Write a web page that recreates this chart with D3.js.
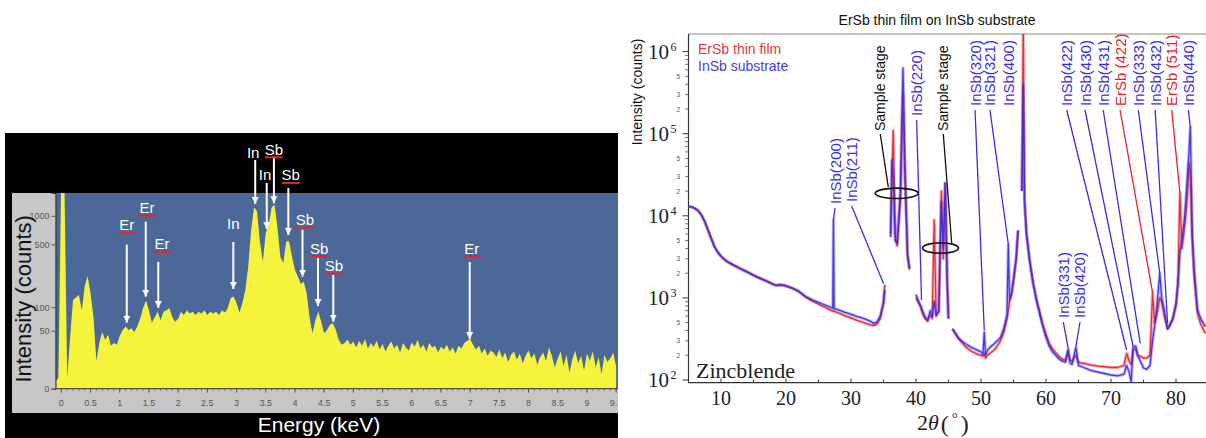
<!DOCTYPE html>
<html>
<head>
<meta charset="utf-8">
<script src="https://cdn.jsdelivr.net/npm/d3@7"></script>
<style>
  html, body { margin: 0; padding: 0; background: #fff; }
  svg { display: block; }
</style>
</head>
<body>
<div class="chart"></div>
<script>
// ---- EDS spectrum (left) ----
var edsEnergy = [
    -0.1, -0.05, 0, 0.05, 0.1, 0.15, 0.2, 0.25, 0.3, 0.35, 0.4, 0.45, 0.5, 0.55, 0.6, 0.65, 0.7, 0.75, 0.8, 0.85,
    0.9, 0.95, 1, 1.05, 1.1, 1.15, 1.2, 1.25, 1.3, 1.35, 1.4, 1.45, 1.5, 1.55, 1.6, 1.65, 1.7, 1.75, 1.8, 1.85,
    1.9, 1.95, 2, 2.05, 2.1, 2.15, 2.2, 2.25, 2.3, 2.35, 2.4, 2.45, 2.5, 2.55, 2.6, 2.65, 2.7, 2.75, 2.8, 2.85,
    2.9, 2.95, 3, 3.05, 3.1, 3.15, 3.2, 3.25, 3.3, 3.35, 3.4, 3.45, 3.5, 3.55, 3.6, 3.65, 3.7, 3.75, 3.8, 3.85,
    3.9, 3.95, 4, 4.05, 4.1, 4.15, 4.2, 4.25, 4.3, 4.35, 4.4, 4.45, 4.5, 4.55, 4.6, 4.65, 4.7, 4.75, 4.8, 4.85,
    4.9, 4.95, 5, 5.05, 5.1, 5.15, 5.2, 5.25, 5.3, 5.35, 5.4, 5.45, 5.5, 5.55, 5.6, 5.65, 5.7, 5.75, 5.8, 5.85,
    5.9, 5.95, 6, 6.05, 6.1, 6.15, 6.2, 6.25, 6.3, 6.35, 6.4, 6.45, 6.5, 6.55, 6.6, 6.65, 6.7, 6.75, 6.8, 6.85,
    6.9, 6.95, 7, 7.05, 7.1, 7.15, 7.2, 7.25, 7.3, 7.35, 7.4, 7.45, 7.5, 7.55, 7.6, 7.65, 7.7, 7.75, 7.8, 7.85,
    7.9, 7.95, 8, 8.05, 8.1, 8.15, 8.2, 8.25, 8.3, 8.35, 8.4, 8.45, 8.5, 8.55, 8.6, 8.65, 8.7, 8.75, 8.8, 8.85,
    8.9, 8.95, 9, 9.05, 9.1, 9.15, 9.2, 9.25, 9.3, 9.35, 9.4, 9.45, 9.5
];
var edsCounts = [
    3, 5, 3000, 3000, 5, 40, 122, 130, 140, 92, 175, 226, 147, 75, 16, 33, 48, 37, 44, 30,
    33, 31, 42, 51, 57, 51, 54, 48, 57, 72, 98, 120, 92, 64, 75, 88, 69, 88, 92, 98,
    75, 66, 72, 88, 80, 92, 84, 88, 80, 88, 84, 92, 80, 88, 84, 88, 80, 92, 86, 98,
    128, 134, 112, 86, 112, 159, 288, 711, 1220, 1120, 540, 325, 660, 800, 1220, 1300, 770, 370, 315, 535,
    540, 370, 265, 225, 185, 197, 147, 75, 46, 69, 88, 66, 46, 51, 60, 63, 51, 37, 31, 33,
    37, 31, 35, 28, 36, 30, 38, 27, 33, 29, 36, 26, 32, 24, 30, 35, 27, 31, 23, 33,
    28, 25, 34, 29, 37, 27, 31, 24, 33, 28, 30, 23, 29, 26, 31, 24, 28, 22, 30, 27,
    33, 36, 38, 31, 26, 30, 22, 27, 20, 25, 23, 19, 26, 18, 23, 15, 21, 24, 17, 22,
    14, 20, 25, 18, 22, 13, 19, 23, 16, 28, 20, 11, 18, 24, 12, 21, 8, 17, 25, 14,
    20, 9, 22, 16, 24, 11, 19, 7, 21, 15, 18, 23, 12
];
var edsTicksY = [0, 50, 100, 500, 1000];
var edsTicksX = [0, 0.5, 1, 1.5, 2, 2.5, 3, 3.5, 4, 4.5, 5, 5.5, 6, 6.5, 7, 7.5, 8, 8.5, 9, 9.5];

// element lines: energy of arrow, counts at arrow tip
var edsLineLabels = ['Er', 'Er', 'Er', 'In', 'In', 'Sb', 'In', 'Sb', 'Sb', 'Sb', 'Sb', 'Er'];
var edsLineEnergy = [1.12, 1.445, 1.66, 2.945, 3.32, 3.64, 3.517, 3.887, 4.13, 4.395, 4.657, 6.993];
var edsLineTip = [64, 133, 98, 163, 1328, 1350, 728, 629, 224, 103, 66, 38];

// ---- XRD (right) ----
var xrdTheta = [
    5, 5.5, 6, 6.5, 7, 7.5, 8, 8.5, 9, 9.5, 10, 10.5, 11, 11.5, 12, 13, 14, 15, 16, 17,
    18, 18.5, 19, 19.5, 20, 21, 22, 23, 24, 25, 26, 27, 27.2, 27.3, 27.4, 28, 29, 30, 31, 32,
    33, 33.5, 34, 34.5, 35, 35.2, 35.6,
    36.1, 36.3, 36.5, 36.8, 37.1, 37.6, 38, 38.3, 38.7, 39, 39.5,
    40, 40.3, 40.7, 41, 41.4, 41.8, 42.2, 42.5, 42.8, 43.1, 43.5, 43.9, 44.2, 44.5, 44.8, 45, 45.3,
    45.6, 46, 46.5, 47, 47.5, 48, 48.5, 49, 49.5, 50, 50.3, 50.5, 50.7, 51, 51.5, 52, 52.5, 53, 53.5, 54,
    54.2, 54.4, 54.7, 55, 55.4, 55.7, 56,
    56.3, 56.5, 56.7, 57, 57.5, 58, 58.5, 59, 59.5, 60, 60.5, 61, 61.5, 62, 62.5, 63, 63.4, 63.7, 64, 64.6,
    65, 65.5, 66, 67, 68, 69, 70, 71, 72, 72.4, 72.8, 73.1, 73.4, 73.8, 74.1, 74.5, 75, 75.5, 76, 76.4,
    76.7, 77, 77.5, 77.8, 78.2, 78.7, 79, 79.5, 80, 80.3, 80.6, 80.9, 81.3, 81.7, 82, 82.2, 82.5, 82.8, 83.3, 83.8,
    84.3, 84.5
];
var xrdFilm = [
    13000, 12800, 12300, 11500, 10200, 8500, 6700, 5300, 4200, 3600, 3230, 2950, 2760, 2620, 2510, 2280, 2100, 1900, 1750, 1610,
    1480, 1420, 1440, 1430, 1400, 1310, 1190, 1030, 920, 840, 770, 700, 690, 700, 685, 660, 610, 570, 530, 500,
    470, 460, 480, 560, 900, 1450, null,
    6000, 30000, 110000, 6000, 4300, 15000, 310000, 30000, 3200, 2200, null,
    1000, 900, 780, 650, 560, 520, 620, 560, 8900, 600, 700, 20000, 3000, 25000, 1500, 560, null,
    420, 370, 320, 290, 260, 240, 225, 215, 205, 200, 195, 210, 185, 200, 215, 230, 260, 300, 380, 560,
    700, 900, 1100, 1600, 2800, 6500, null,
    20000, 2000000, 15000, 6000, 2800, 1600, 1000, 700, 480, 360, 280, 240, 215, 195, 180, 175, 220, 175, 170, 200,
    165, 160, 158, 152, 148, 145, 142, 142, 150, 210, 170, 155, 230, 240, 200, 195, 185, 185, 200, 1150,
    500, 600, 1000, 900, 600, 420, 450, 550, 800, 1500, 19000, 4000, 7000, 15000, 44000, 30000, 5000, 1800, 650, 480,
    400, 370
];
var xrdSubstrate = [
    13000, 12800, 12300, 11500, 10200, 8500, 6700, 5300, 4200, 3600, 3230, 2950, 2760, 2620, 2480, 2250, 2060, 1880, 1720, 1600,
    1460, 1420, 1440, 1430, 1400, 1310, 1200, 1040, 950, 880, 820, 760, 750, 9000, 740, 720, 670, 630, 590, 560,
    520, 490, 510, 600, 850, 1250, null,
    5500, 48000, 30000, 5000, 4600, 20000, 630000, 40000, 3400, 2300, null,
    1100, 950, 800, 700, 580, 540, 700, 600, 900, 620, 680, 15000, 4000, 25000, 1600, 560, null,
    420, 380, 330, 300, 280, 265, 250, 240, 230, 220, 205, 380, 200, 230, 255, 275, 300, 330, 420, 620,
    4500, 950, 1150, 1700, 3000, 6700, null,
    20000, 390000, 15000, 6000, 2800, 1500, 950, 650, 450, 330, 260, 220, 200, 180, 170, 165, 240, 160, 155, 250,
    150, 145, 140, 130, 125, 120, 115, 112, 118, 150, 125, 95, 250, 260, 200, 170, 140, 135, 150, 300,
    450, 700, 2000, 1000, 700, 420, 460, 560, 850, 1500, 3500, 5000, 9000, 25000, 60000, 120000, 6000, 2200, 720, 560,
    480, 446
];
var xrdTicksX = [10, 20, 30, 40, 50, 60, 70, 80];
var xrdDecades = [2, 3, 4, 5, 6];
var xrdMinorLabels = [2, 3, 5];

// reflections: label, colour key, label position (2theta), peak position (2theta), counts at leader end
var xrdPeakText = ['InSb(200)', 'InSb(211)', 'InSb(220)', 'InSb(320)', 'InSb(321)', 'InSb(400)',
    'InSb(422)', 'InSb(430)', 'InSb(431)', 'ErSb (422)', 'InSb(333)', 'InSb(432)', 'ErSb (511)', 'InSb(440)',
    'InSb(331)', 'InSb(420)'];
var xrdPeakKind = ['sub', 'sub', 'sub', 'sub', 'sub', 'sub', 'sub', 'sub', 'sub', 'film', 'sub', 'sub', 'film', 'sub', 'sub', 'sub'];
var xrdPeakLabelAt = [27.54, 30.1, 40.1, 49.08, 51.38, 54.2, 63.18, 66.0, 68.8, 71.4, 74.2, 76.8, 79.34, 81.9, 62.66, 65.23];
var xrdPeakAt = [27.3, 35.0, 40.85, 50.5, 54.2, null, 72.4, 73.4, 74.5, 76.4, 77.5, 78.7, 80.6, 82.2, 63.4, 64.6];
var xrdPeakTip = [9000, 1500, 940, 400, 4500, null, 232, 255, 280, 1150, 2000, 494, 19000, 120000, 246, 255];

// sample stage reflections
var stageLabelAt = [34.5, 44.2];
var stageLeaderAt = [35.74, 45.5];
var stageLeaderTip = [22400, 4540];
var stageRingAt = [37.03, 43.77];
var stageRingCounts = [18800, 4050];

const doFigure = (() => {
    var sans = 'Liberation Sans, Arial, sans-serif';
    var serif = 'Liberation Serif, Times New Roman, serif';

    var edsConfig = {
        panel: { x: 5, y: 133, w: 613, h: 305 },
        frame: { x: 12, y: 193, w: 606, h: 220 },
        left: 55.5, right: 618, top: 193, bottom: 388.7,
        colors: { bg: '#000', frame: '#c7c7c7', plot: '#4b6899', fill: '#f5f33b', underline: '#e0262a' }
    };
    // label placement for element lines: arrow length, gap above arrow, x shift, underline
    var edsLineLayout = [
        [78, 20, 0, 1], [75, 14, 1.3, 1], [46, 18, 3.7, 1], [47, 18, 0, 0], [44, 7, -2, 0], [47, 7, 0, 1],
        [46, 8, -1.7, 0], [47, 13, 2.4, 1], [47, 10, 2.3, 1], [48, 10, 1.3, 1], [47, 9, 0.7, 1], [77, 14, 2, 1]
    ];

    var xrdConfig = {
        left: 688.5, right: 1205.25, top: 34, bottom: 382.7,
        colors: { film: '#e8202a', sub: '#3a2ee6', black: '#111' }
    };
    var xrdLabelBottom = [204, 202, 116, 106, 106, 106, 106, 106, 106, 106, 106, 106, 106, 106, 318, 318];

    var svg = d3.select('.chart').append('svg').attr('width', 1206).attr('height', 438);
    var defs = svg.append('defs');
    svg.append('rect').attr('width', 1206).attr('height', 438).attr('fill', '#fff');

    var drawEds = function () {
        var c = edsConfig;
        defs.append('clipPath').attr('id', 'eds-panel').append('rect')
            .attr('x', c.panel.x).attr('y', c.panel.y).attr('width', c.panel.w).attr('height', c.panel.h);
        defs.append('clipPath').attr('id', 'eds-plot').append('rect')
            .attr('x', c.left).attr('y', c.top).attr('width', c.right - c.left).attr('height', c.bottom - c.top);
        defs.append('marker').attr('id', 'eds-arrow')
            .attr('viewBox', '0 0 10 10').attr('refX', 10).attr('refY', 5)
            .attr('markerWidth', 7).attr('markerHeight', 7).attr('markerUnits', 'userSpaceOnUse')
            .attr('orient', 'auto')
            .append('path').attr('d', 'M0,0L10,5L0,10z').attr('fill', '#fff');

        var g = svg.append('g').attr('clip-path', 'url(#eds-panel)');
        g.append('rect').attr('x', c.panel.x).attr('y', c.panel.y).attr('width', c.panel.w).attr('height', c.panel.h)
            .attr('fill', c.colors.bg);
        g.append('rect').attr('x', c.frame.x).attr('y', c.frame.y).attr('width', c.frame.w).attr('height', c.frame.h)
            .attr('fill', c.colors.frame);
        g.append('rect').attr('x', c.left).attr('y', c.top).attr('width', c.right - c.left).attr('height', c.bottom - c.top)
            .attr('fill', c.colors.plot);

        var xScale = d3.scaleLinear().domain([-0.1, 9.532]).range([c.left, c.right]);
        var yScale = d3.scaleSymlog().constant(17).domain([0, 1727]).range([c.bottom, c.top]);

        var area = d3.area()
            .x(function (d, i) { return xScale(edsEnergy[i]); })
            .y0(c.bottom)
            .y1(function (d) { return yScale(d); });
        g.append('path').datum(edsCounts)
            .attr('clip-path', 'url(#eds-plot)')
            .attr('fill', c.colors.fill)
            .attr('d', area);

        // axes
        var yAxis = d3.axisLeft(yScale).tickValues(edsTicksY).tickSize(4).tickPadding(2).tickFormat(d3.format('d'));
        var ya = g.append('g').attr('transform', 'translate(' + c.left + ',0)').call(yAxis);
        ya.select('.domain').attr('stroke', '#333');
        ya.selectAll('line').attr('stroke', '#555');
        ya.selectAll('text').attr('font-family', sans).attr('font-size', 9).attr('fill', '#555');

        var xMinor = d3.range(0, 96).map(function (i) { return i / 10; });
        var xa = g.append('g').attr('transform', 'translate(0,' + c.bottom + ')');
        xa.append('line').attr('x1', c.left).attr('x2', c.right).attr('stroke', '#333');
        xa.selectAll('.minor').data(xMinor).enter().append('line')
            .attr('x1', xScale).attr('x2', xScale).attr('y1', 0).attr('y2', 2).attr('stroke', '#666');
        xa.selectAll('.major').data(edsTicksX).enter().append('line')
            .attr('x1', xScale).attr('x2', xScale).attr('y1', 0).attr('y2', 4).attr('stroke', '#555');
        xa.selectAll('text').data(edsTicksX).enter().append('text')
            .attr('x', xScale).attr('y', 17)
            .attr('text-anchor', 'middle')
            .attr('font-family', sans).attr('font-size', 9).attr('fill', '#555')
            .text(function (d) { return d; });

        g.append('text')
            .attr('transform', 'translate(23,' + ((c.top + c.bottom) / 2 + 8) + ') rotate(-90)')
            .attr('text-anchor', 'middle').attr('dominant-baseline', 'central')
            .attr('font-family', sans).attr('font-size', 22).attr('fill', '#111')
            .text('Intensity (counts)');
        g.append('text')
            .attr('x', 319).attr('y', 432)
            .attr('text-anchor', 'middle')
            .attr('font-family', sans).attr('font-size', 21).attr('fill', '#fff')
            .text('Energy (keV)');

        // element lines
        edsLineLabels.forEach(function (txt, i) {
            var lay = edsLineLayout[i];
            var x = xScale(edsLineEnergy[i]);
            var tipY = yScale(edsLineTip[i]);
            var topY = tipY - lay[0];
            var lx = x + lay[2];
            var ly = topY - lay[1];
            g.append('line')
                .attr('x1', x).attr('x2', x).attr('y1', topY).attr('y2', tipY)
                .attr('stroke', '#fff').attr('stroke-width', 2)
                .attr('marker-end', 'url(#eds-arrow)');
            g.append('text')
                .attr('x', lx).attr('y', ly)
                .attr('text-anchor', 'middle').attr('dominant-baseline', 'central')
                .attr('font-family', sans).attr('font-size', 15).attr('fill', '#fff')
                .text(txt);
            if (lay[3]) {
                g.append('line')
                    .attr('x1', lx - 9).attr('x2', lx + 9).attr('y1', ly + 8).attr('y2', ly + 8)
                    .attr('stroke', c.colors.underline).attr('stroke-width', 2);
            }
        });
    };

    var drawXrd = function () {
        var c = xrdConfig;
        var xScale = d3.scaleLinear().domain([5, 84.5]).range([c.left, c.right]);
        var yScale = d3.scaleLog().domain([92.7, 1.64e6]).range([c.bottom, c.top]);

        defs.append('clipPath').attr('id', 'xrd-plot').append('rect')
            .attr('x', c.left).attr('y', c.top).attr('width', 1206 - c.left).attr('height', c.bottom - c.top);

        var g = svg.append('g');

        g.append('text')
            .attr('x', 937).attr('y', 24.5)
            .attr('text-anchor', 'middle')
            .attr('font-family', sans).attr('font-size', 14).attr('fill', '#111')
            .text('ErSb thin film on InSb substrate');

        // frame
        g.append('line').attr('x1', c.left).attr('x2', 1206).attr('y1', c.top).attr('y2', c.top)
            .attr('stroke', '#8a8a8a').attr('stroke-width', 1);
        g.append('line').attr('x1', c.left).attr('x2', c.left).attr('y1', c.top).attr('y2', c.bottom)
            .attr('stroke', '#333').attr('stroke-width', 1.2);
        g.append('line').attr('x1', c.left).attr('x2', 1206).attr('y1', c.bottom).attr('y2', c.bottom)
            .attr('stroke', '#333').attr('stroke-width', 1.2);

        // x axis
        var xMinor = [15, 25, 35, 45, 55, 65, 75];
        g.selectAll('.xminor').data(xMinor).enter().append('line')
            .attr('x1', xScale).attr('x2', xScale).attr('y1', c.bottom).attr('y2', c.bottom - 3)
            .attr('stroke', '#333');
        g.selectAll('.xmajor').data(xrdTicksX).enter().append('line')
            .attr('x1', xScale).attr('x2', xScale).attr('y1', c.bottom).attr('y2', c.bottom - 4)
            .attr('stroke', '#333');
        g.selectAll('.xlab').data(xrdTicksX).enter().append('text')
            .attr('x', xScale).attr('y', 405)
            .attr('text-anchor', 'middle')
            .attr('font-family', serif).attr('font-size', 20).attr('fill', '#222')
            .text(function (d) { return d; });

        // y axis, decades and minor ticks
        xrdDecades.forEach(function (p) {
            var base = Math.pow(10, p);
            var y = yScale(base);
            g.append('line').attr('x1', c.left - 6).attr('x2', c.left).attr('y1', y).attr('y2', y).attr('stroke', '#333');
            g.append('text').attr('x', 669).attr('y', y + 7)
                .attr('text-anchor', 'end')
                .attr('font-family', serif).attr('font-size', 21).attr('fill', '#222')
                .text('10');
            g.append('text').attr('x', 670.5).attr('y', y - 1)
                .attr('font-family', serif).attr('font-size', 12).attr('fill', '#222')
                .text(p);
            if (p < 6) {
                d3.range(2, 10).forEach(function (m) {
                    var ym = yScale(base * m);
                    g.append('line').attr('x1', c.left - 3.5).attr('x2', c.left).attr('y1', ym).attr('y2', ym)
                        .attr('stroke', '#555').attr('stroke-width', 0.8);
                    if (xrdMinorLabels.indexOf(m) >= 0) {
                        g.append('text').attr('x', 680).attr('y', ym)
                            .attr('text-anchor', 'end').attr('dominant-baseline', 'central')
                            .attr('font-family', sans).attr('font-size', 6.5).attr('fill', '#555')
                            .text(m);
                    }
                });
            }
        });

        g.append('text')
            .attr('transform', 'translate(637,92) rotate(-90)')
            .attr('text-anchor', 'middle').attr('dominant-baseline', 'central')
            .attr('font-family', sans).attr('font-size', 14).attr('fill', '#111')
            .text('Intensity (counts)');

        var xl = g.append('text').attr('x', 917).attr('y', 430)
            .attr('font-family', serif).attr('font-size', 22).attr('fill', '#222');
        xl.append('tspan').text('2');
        xl.append('tspan').attr('font-style', 'italic').text('\u03b8');
        xl.append('tspan').attr('font-size', 24).attr('dx', 2).attr('dy', 2).text('(');
        xl.append('tspan').attr('font-size', 15).attr('dx', 3).attr('dy', -9).text('\u00b0');
        xl.append('tspan').attr('font-size', 24).attr('dx', 3).attr('dy', 9).text(')');

        // data
        var line = d3.line()
            .defined(function (d) { return d[1] != null; })
            .x(function (d) { return xScale(d[0]); })
            .y(function (d) { return yScale(d[1]); });
        var plot = g.append('g').attr('clip-path', 'url(#xrd-plot)');
        [[xrdFilm, c.colors.film], [xrdSubstrate, c.colors.sub]].forEach(function (s) {
            var rows = xrdTheta.map(function (t, i) { return [t, s[0][i]]; });
            plot.append('path').datum(rows)
                .attr('fill', 'none').attr('stroke', s[1]).attr('stroke-width', 3.2).attr('stroke-opacity', 0.35)
                .attr('stroke-linejoin', 'round').attr('d', line);
            plot.append('path').datum(rows)
                .attr('fill', 'none').attr('stroke', s[1]).attr('stroke-width', 1.3).attr('stroke-opacity', 0.9)
                .attr('stroke-linejoin', 'round').attr('d', line);
        });

        // legend
        g.append('text').attr('x', 698).attr('y', 54)
            .attr('font-family', sans).attr('font-size', 14).attr('fill', '#e2354a').text('ErSb thin film');
        g.append('text').attr('x', 698).attr('y', 71)
            .attr('font-family', sans).attr('font-size', 14).attr('fill', '#4a3cdc').text('InSb substrate');

        g.append('text').attr('x', 696).attr('y', 378)
            .attr('font-family', serif).attr('font-size', 22).attr('fill', '#222').text('Zincblende');

        // reflection labels
        xrdPeakText.forEach(function (txt, i) {
            var col = c.colors[xrdPeakKind[i]];
            var lx = xScale(xrdPeakLabelAt[i]);
            var by = xrdLabelBottom[i];
            g.append('text')
                .attr('transform', 'translate(' + lx + ',' + by + ') rotate(-90)')
                .attr('dominant-baseline', 'central')
                .attr('font-family', sans).attr('font-size', 15).attr('fill', col)
                .text(txt);
            if (xrdPeakAt[i] != null) {
                g.append('line')
                    .attr('x1', lx).attr('y1', by + 4)
                    .attr('x2', xScale(xrdPeakAt[i])).attr('y2', yScale(xrdPeakTip[i]))
                    .attr('stroke', col).attr('stroke-width', 1.3);
            }
        });

        // sample stage
        stageLabelAt.forEach(function (t, i) {
            var lx = xScale(t);
            g.append('text')
                .attr('transform', 'translate(' + lx + ',131) rotate(-90)')
                .attr('dominant-baseline', 'central')
                .attr('font-family', sans).attr('font-size', 14).attr('fill', c.colors.black)
                .text('Sample stage');
            g.append('line')
                .attr('x1', lx).attr('y1', 134)
                .attr('x2', xScale(stageLeaderAt[i])).attr('y2', yScale(stageLeaderTip[i]))
                .attr('stroke', c.colors.black).attr('stroke-width', 1.3);
            g.append('ellipse')
                .attr('cx', xScale(stageRingAt[i])).attr('cy', yScale(stageRingCounts[i]))
                .attr('rx', i === 0 ? 21.5 : 18).attr('ry', 5.2)
                .attr('fill', 'none').attr('stroke', c.colors.black).attr('stroke-width', 1.6);
        });
    };

    return { draw: function () { drawEds(); drawXrd(); } };
})();

doFigure.draw();
</script>
</body>
</html>
